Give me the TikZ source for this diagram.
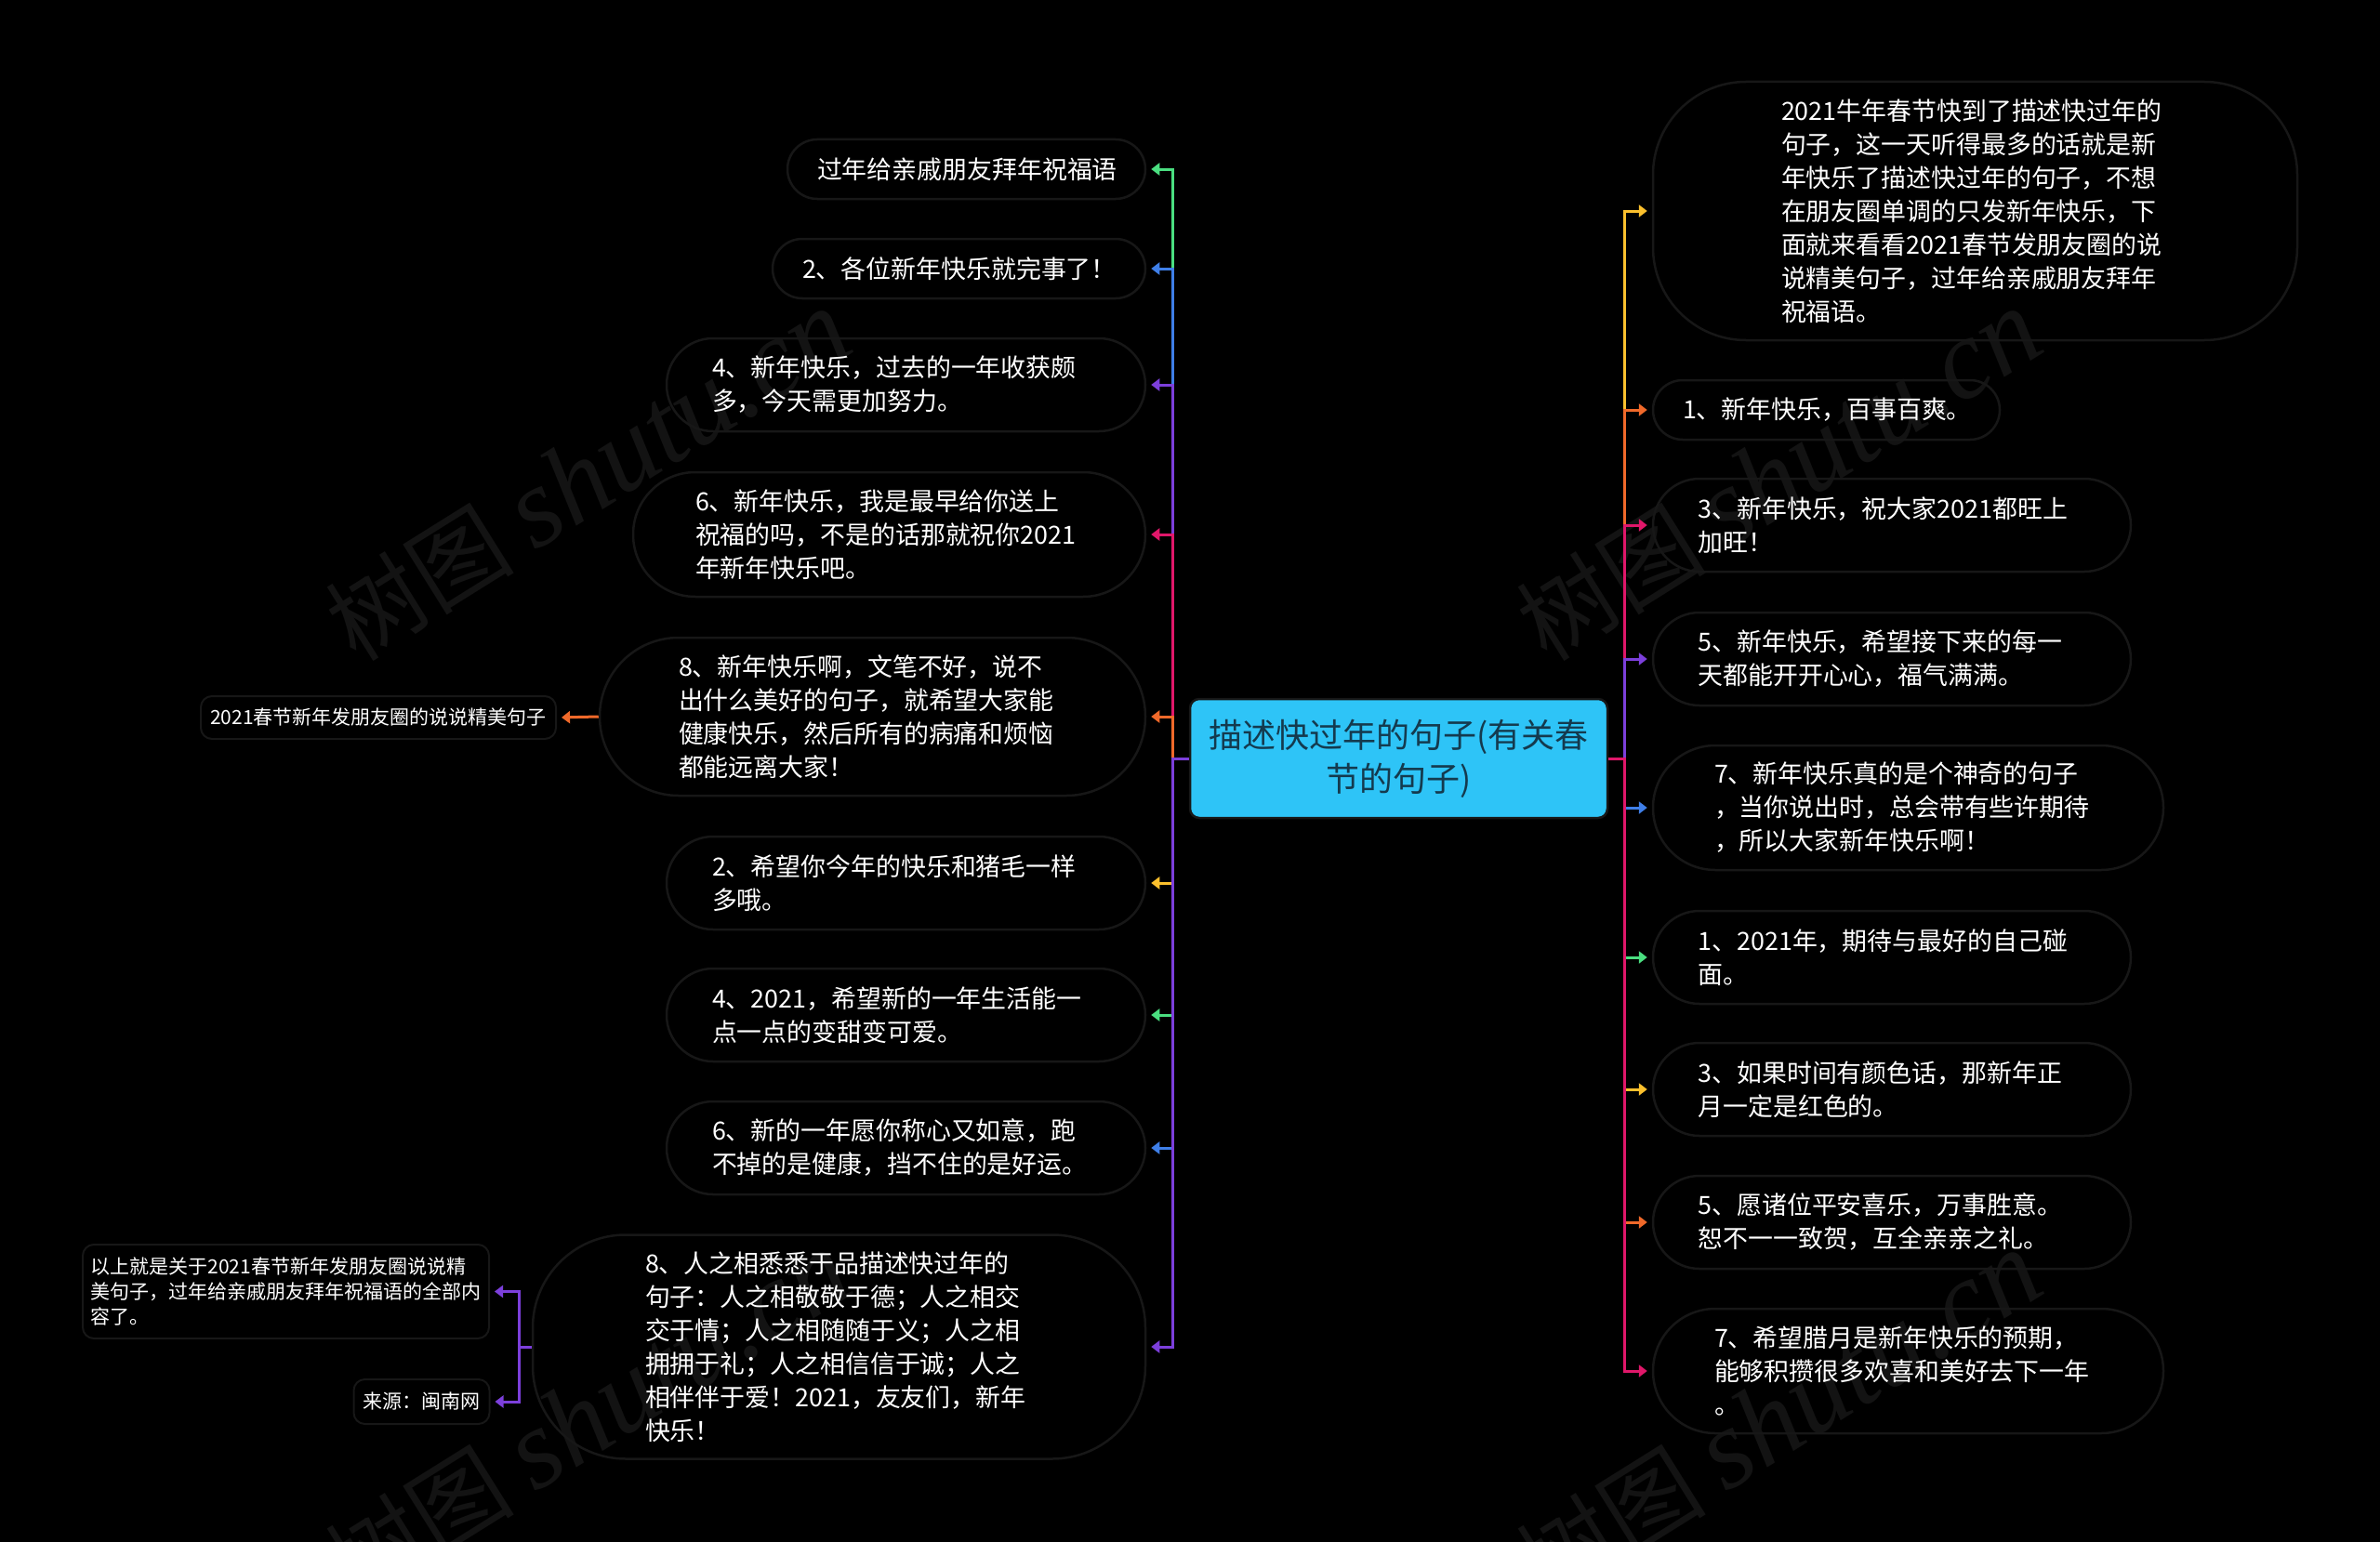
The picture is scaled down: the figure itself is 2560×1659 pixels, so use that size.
\documentclass[tikz,border=0pt]{standalone}
\usepackage{fontspec}
\setmainfont{Noto Sans CJK SC}
\newfontfamily\wmfont{Liberation Serif}
\usetikzlibrary{arrows.meta}
\definecolor{cgreen}{HTML}{4ADE80}
\definecolor{cblue}{HTML}{3F7FE8}
\definecolor{cpurple}{HTML}{7C3FDB}
\definecolor{cpink}{HTML}{E0176A}
\definecolor{corange}{HTML}{F0692A}
\definecolor{cyellow}{HTML}{FBC02D}
\definecolor{rim}{HTML}{171717}
\definecolor{wm}{HTML}{131313}
\definecolor{topicfill}{HTML}{2EC4F7}
\definecolor{topictext}{HTML}{143A4E}
\tikzset{
  topic/.style={fill=topicfill,draw=rim,line width=2.5pt,rounded corners=10,text=topictext,align=center,inner sep=0pt,
    font=\fontsize{36}{47}\selectfont},
  bubble/.style={draw=rim,line width=2.5pt,text=white,align=left,inner sep=0pt,text width=417pt,
    font=\fontsize{26.9}{36}\selectfont},
  note/.style={draw=rim,line width=2pt,rounded corners=12,text=white,align=left,inner sep=0pt,
    font=\fontsize{21}{27}\selectfont},
  link/.style={line width=3pt,-{Triangle[length=9pt,width=13pt]},shorten >=5pt},
  stamp/.style={text=wm,rotate=32,font=\fontsize{102}{110}\selectfont}
}
\newcommand{\wmtext}{树图 {\wmfont\itshape\fontsize{122}{122}\selectfont shutu.cn}}
\begin{document}
\begin{tikzpicture}[x=1pt,y=-1pt]
  \useasboundingbox (0,0) rectangle (2560,1659);
  \fill[black] (0,0) rectangle (2560,1659);
  \node[stamp] (wm1) at (633,512) {\wmtext};
  \node[stamp] (wm2) at (1914,512) {\wmtext};
  \node[stamp] (wm3) at (633,1525) {\wmtext};
  \node[stamp] (wm4) at (1914,1525) {\wmtext};

  \node[topic,minimum width=449,minimum height=128] (root) at (1504.5,816) {描述快过年的句子(有关春\\节的句子)};
  \coordinate (trunkl) at (1261,816);
  \coordinate (trunkr) at (1747,816);
  \coordinate (forkl) at (558,1449);

  \node[bubble,text width=321pt,minimum width=385,minimum height=64,rounded corners=32] (l1) at (1039.5,182) {过年给亲戚朋友拜年祝福语};
  \node[bubble,text width=337pt,minimum width=401,minimum height=64,rounded corners=32] (l2) at (1031.5,289) {2、各位新年快乐就完事了！};
  \node[bubble,minimum width=515,minimum height=100,rounded corners=50] (l3) at (974.5,414) {4、新年快乐，过去的一年收获颇\\多，今天需更加努力。};
  \node[bubble,minimum width=551,minimum height=134,rounded corners=67] (l4) at (956.5,575) {6、新年快乐，我是最早给你送上\\祝福的吗，不是的话那就祝你2021\\年新年快乐吧。};
  \node[bubble,minimum width=587,minimum height=170,rounded corners=85] (l5) at (938.5,771) {8、新年快乐啊，文笔不好，说不\\出什么美好的句子，就希望大家能\\健康快乐，然后所有的病痛和烦恼\\都能远离大家！};
  \node[bubble,minimum width=515,minimum height=100,rounded corners=50] (l6) at (974.5,950) {2、希望你今年的快乐和猪毛一样\\多哦。};
  \node[bubble,minimum width=515,minimum height=100,rounded corners=50] (l7) at (974.5,1092) {4、2021，希望新的一年生活能一\\点一点的变甜变可爱。};
  \node[bubble,minimum width=515,minimum height=100,rounded corners=50] (l8) at (974.5,1235) {6、新的一年愿你称心又如意，跑\\不掉的是健康，挡不住的是好运。};
  \node[bubble,minimum width=659,minimum height=241,rounded corners=100] (l9) at (902.5,1449) {8、人之相悉悉于品描述快过年的\\句子：人之相敬敬于德；人之相交\\交于情；人之相随随于义；人之相\\拥拥于礼；人之相信信于诚；人之\\相伴伴于爱！2021，友友们，新年\\快乐！};

  \node[note,minimum width=382,minimum height=46] (s1) at (407,772) {2021春节新年发朋友圈的说说精美句子};
  \node[note,minimum width=437,minimum height=101] (s2) at (307.5,1389.5) {以上就是关于2021春节新年发朋友圈说说精\\美句子，过年给亲戚朋友拜年祝福语的全部内\\容了。};
  \node[note,minimum width=146,minimum height=48] (s3) at (453.5,1508) {来源：闽南网};

  \node[bubble,minimum width=693,minimum height=278,rounded corners=100] (r1) at (2124.5,227) {2021牛年春节快到了描述快过年的\\句子，这一天听得最多的话就是新\\年快乐了描述快过年的句子，不想\\在朋友圈单调的只发新年快乐，下\\面就来看看2021春节发朋友圈的说\\说精美句子，过年给亲戚朋友拜年\\祝福语。};
  \node[bubble,text width=309pt,minimum width=373,minimum height=64,rounded corners=32] (r2) at (1964.5,441) {1、新年快乐，百事百爽。};
  \node[bubble,minimum width=514,minimum height=100,rounded corners=50] (r3) at (2035,565) {3、新年快乐，祝大家2021都旺上\\加旺！};
  \node[bubble,minimum width=514,minimum height=100,rounded corners=50] (r4) at (2035,709) {5、新年快乐，希望接下来的每一\\天都能开开心心，福气满满。};
  \node[bubble,minimum width=549,minimum height=134,rounded corners=67] (r5) at (2052.5,869) {7、新年快乐真的是个神奇的句子\\，当你说出时，总会带有些许期待\\，所以大家新年快乐啊！};
  \node[bubble,minimum width=514,minimum height=100,rounded corners=50] (r6) at (2035,1030) {1、2021年，期待与最好的自己碰\\面。};
  \node[bubble,minimum width=514,minimum height=100,rounded corners=50] (r7) at (2035,1172) {3、如果时间有颜色话，那新年正\\月一定是红色的。};
  \node[bubble,minimum width=514,minimum height=100,rounded corners=50] (r8) at (2035,1315) {5、愿诸位平安喜乐，万事胜意。\\恕不一一致贺，互全亲亲之礼。};
  \node[bubble,minimum width=549,minimum height=134,rounded corners=67] (r9) at (2052.5,1475) {7、希望腊月是新年快乐的预期，\\能够积攒很多欢喜和美好去下一年\\。};

  \begin{scope}[link]
    \draw[cgreen] (root.west) -- (trunkl) |- (l1.east);
    \draw[cblue] (root.west) -- (trunkl) |- (l2.east);
    \draw[cpurple] (root.west) -- (trunkl) |- (l3.east);
    \draw[cpink] (root.west) -- (trunkl) |- (l4.east);
    \draw[corange] (root.west) -- (trunkl) |- (l5.east);
    \draw[cyellow] (root.west) -- (trunkl) |- (l6.east);
    \draw[cgreen] (root.west) -- (trunkl) |- (l7.east);
    \draw[cblue] (root.west) -- (trunkl) |- (l8.east);
    \draw[cpurple] (root.west) -- (trunkl) |- (l9.east);
    \draw[corange] (l5.west) -- (s1.east);
    \draw[cpurple] (l9.west) -- (forkl) |- (s2.east);
    \draw[cpurple] (l9.west) -- (forkl) |- (s3.east);
    \draw[cyellow] (root.east) -- (trunkr) |- (r1.west);
    \draw[corange] (root.east) -- (trunkr) |- (r2.west);
    \draw[cpink] (root.east) -- (trunkr) |- (r3.west);
    \draw[cpurple] (root.east) -- (trunkr) |- (r4.west);
    \draw[cblue] (root.east) -- (trunkr) |- (r5.west);
    \draw[cgreen] (root.east) -- (trunkr) |- (r6.west);
    \draw[cyellow] (root.east) -- (trunkr) |- (r7.west);
    \draw[corange] (root.east) -- (trunkr) |- (r8.west);
    \draw[cpink] (root.east) -- (trunkr) |- (r9.west);
  \end{scope}
\end{tikzpicture}
\end{document}
